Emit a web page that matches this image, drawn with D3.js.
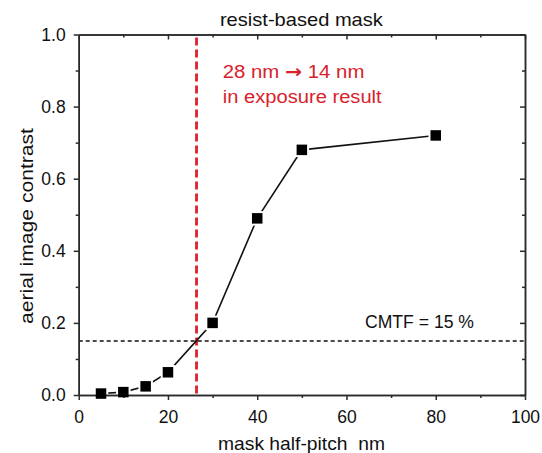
<!DOCTYPE html>
<html>
<head>
<meta charset="utf-8">
<script src="https://cdn.jsdelivr.net/npm/d3@7"></script>
<style>
  html, body { margin: 0; padding: 0; background: #fff; }
  svg { display: block; }
  text { font-family: "Liberation Sans", Arial, Helvetica, sans-serif; }
</style>
</head>
<body>
<svg id="chart" width="542" height="453"></svg>
<script>
// ---- data ----
const halfPitch = [5, 10, 15, 20, 30, 40, 50, 80];
const contrast  = [0.004, 0.008, 0.024, 0.063, 0.2, 0.49, 0.68, 0.72];
const xTicks = [0, 20, 40, 60, 80, 100];
const xMinorTicks = [10, 30, 50, 70, 90];
const yTicks = [0.0, 0.2, 0.4, 0.6, 0.8, 1.0];
const yMinorTicks = [0.1, 0.3, 0.5, 0.7, 0.9];
const cmtfLevel = [0.15];
const cutoffPitch = [26.4];
const titleText = "resist-based mask";
const xLabelText = "mask half-pitch\u00a0\u00a0nm";
const yLabelText = "aerial image contrast";
const annotationLine1 = ["28 nm ", "\u2192", " 14 nm"];
const annotationLine2 = "in exposure result";
const cmtfText = "CMTF = 15 %";

(function () {
// ---- layout ----
const svg = d3.select("#chart");
const pLeft = 78.7, pRight = 525, pTop = 34.5, pBottom = 395;
const x = d3.scaleLinear().domain([0, 100]).range([pLeft, pRight]);
const y = d3.scaleLinear().domain([0, 1]).range([pBottom, pTop]);
const axisColor = "#2a2a2a";
const red = "#e0202c";
const textRed = "#d8222c";

// reference lines
svg.append("line")
  .attr("x1", x(0)).attr("x2", x(100))
  .attr("y1", y(cmtfLevel[0])).attr("y2", y(cmtfLevel[0]))
  .attr("stroke", "#111").attr("stroke-width", 1.6)
  .attr("stroke-dasharray", "4,3");

svg.append("line")
  .attr("x1", x(cutoffPitch[0])).attr("x2", x(cutoffPitch[0]))
  .attr("y1", y(1) + 3).attr("y2", y(0))
  .attr("stroke", red).attr("stroke-width", 2.8)
  .attr("stroke-dasharray", "8,4");

// data line
const pts = halfPitch.map((d, i) => [d, contrast[i]]);
svg.append("path")
  .datum(pts)
  .attr("fill", "none")
  .attr("stroke", "#111")
  .attr("stroke-width", 1.6)
  .attr("d", d3.line().x(d => x(d[0])).y(d => y(d[1])));

// white halos to create gaps around markers
const mk = 10.5, gap = 2;
svg.append("g").selectAll("rect")
  .data(pts).join("rect")
  .attr("x", d => x(d[0]) - mk / 2 - gap)
  .attr("y", d => y(d[1]) - mk / 2 - gap)
  .attr("width", mk + 2 * gap).attr("height", mk + 2 * gap)
  .attr("fill", "#fff");

// axes
function styleAxis(g) {
  g.select(".domain").attr("stroke", axisColor).attr("stroke-width", 1.5);
  g.selectAll(".tick line").attr("stroke", axisColor).attr("stroke-width", 1.5);
  g.selectAll(".tick text").attr("fill", "#111")
    .style("font-size", "17.5px")
    .style("font-family", "'Liberation Sans', Arial, Helvetica, sans-serif");
}

const fmtY = d3.format(".1f");

svg.append("g").attr("transform", `translate(0,${pBottom})`)
  .call(d3.axisBottom(x).tickValues(xTicks).tickSize(5).tickPadding(10.5).tickSizeOuter(0))
  .call(styleAxis);
svg.append("g").attr("transform", `translate(0,${pBottom})`)
  .call(d3.axisBottom(x).tickValues(xMinorTicks).tickSize(3).tickFormat("").tickSizeOuter(0))
  .call(styleAxis);

svg.append("g").attr("transform", `translate(0,${pTop})`)
  .call(d3.axisTop(x).tickValues(xTicks).tickSize(-5).tickFormat("").tickSizeOuter(0))
  .call(styleAxis);
svg.append("g").attr("transform", `translate(0,${pTop})`)
  .call(d3.axisTop(x).tickValues(xMinorTicks).tickSize(-3).tickFormat("").tickSizeOuter(0))
  .call(styleAxis);

svg.append("g").attr("transform", `translate(${pLeft},0)`)
  .call(d3.axisLeft(y).tickValues(yTicks).tickSize(5).tickPadding(8).tickFormat(fmtY).tickSizeOuter(0))
  .call(styleAxis);
svg.append("g").attr("transform", `translate(${pLeft},0)`)
  .call(d3.axisLeft(y).tickValues(yMinorTicks).tickSize(3).tickFormat("").tickSizeOuter(0))
  .call(styleAxis);

svg.append("g").attr("transform", `translate(${pRight},0)`)
  .call(d3.axisRight(y).tickValues(yTicks).tickSize(-5).tickFormat("").tickSizeOuter(0))
  .call(styleAxis);
svg.append("g").attr("transform", `translate(${pRight},0)`)
  .call(d3.axisRight(y).tickValues(yMinorTicks).tickSize(-3).tickFormat("").tickSizeOuter(0))
  .call(styleAxis);

// markers
svg.append("g").selectAll("rect")
  .data(pts).join("rect")
  .attr("x", d => x(d[0]) - mk / 2)
  .attr("y", d => y(d[1]) - mk / 2)
  .attr("width", mk).attr("height", mk)
  .attr("fill", "#000");

// texts
svg.append("text")
  .attr("x", 301.4).attr("y", 26)
  .attr("text-anchor", "middle")
  .attr("textLength", 163).attr("lengthAdjust", "spacingAndGlyphs")
  .style("font-size", "18.5px").attr("fill", "#111")
  .text(titleText);

svg.append("text")
  .attr("x", 301.5).attr("y", 450)
  .attr("text-anchor", "middle")
  .attr("textLength", 167).attr("lengthAdjust", "spacingAndGlyphs")
  .style("font-size", "19px").attr("fill", "#111")
  .text(xLabelText);

svg.append("text")
  .attr("transform", "translate(33,226) rotate(-90)")
  .attr("text-anchor", "middle")
  .attr("textLength", 196).attr("lengthAdjust", "spacingAndGlyphs")
  .style("font-size", "19px").attr("fill", "#111")
  .text(yLabelText);

const l1 = svg.append("text")
  .attr("x", 222.7).attr("y", 78.3)
  .attr("textLength", 141.7).attr("lengthAdjust", "spacingAndGlyphs")
  .style("font-size", "18px").attr("fill", textRed);
l1.selectAll("tspan").data(annotationLine1).join("tspan")
  .style("font-family", (d, i) => i === 1 ? "'DejaVu Sans', sans-serif" : null)
  .style("font-weight", (d, i) => i === 1 ? "bold" : null)
  .text(d => d);

svg.append("text")
  .attr("x", 222.7).attr("y", 103.3)
  .attr("textLength", 159).attr("lengthAdjust", "spacingAndGlyphs")
  .style("font-size", "18px").attr("fill", textRed)
  .text(annotationLine2);

svg.append("text")
  .attr("x", 365).attr("y", 327.6)
  .attr("textLength", 109).attr("lengthAdjust", "spacingAndGlyphs")
  .style("font-size", "17.5px").attr("fill", "#111")
  .text(cmtfText);
})();
</script>
</body>
</html>
